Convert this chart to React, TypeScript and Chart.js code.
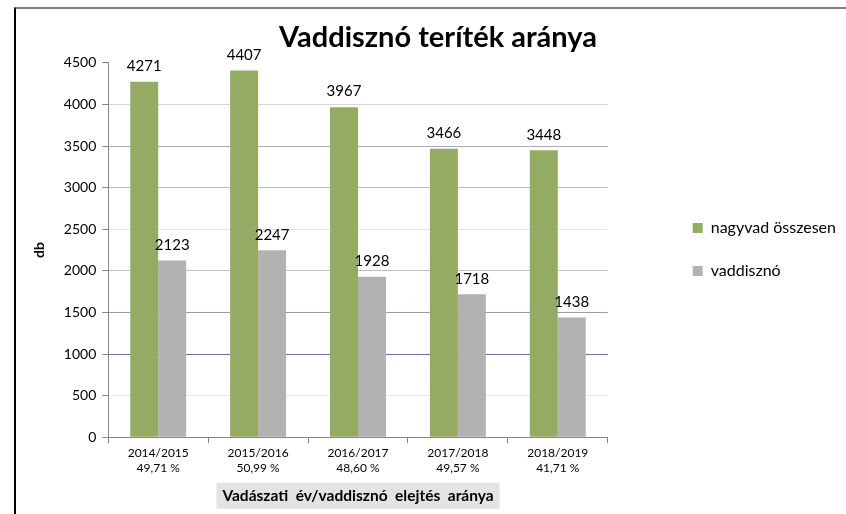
import { useEffect, useRef } from 'react';
import { Chart, registerables } from 'chart.js';

Chart.register(...registerables);

const chartTitle = 'Vaddisznó teríték aránya';
const categories = ['2014/2015', '2015/2016', '2016/2017', '2017/2018', '2018/2019'];
const shareLabels = ['49,71 %', '50,99 %', '48,60 %', '49,57 %', '41,71 %'];
const seriesNames = ['nagyvad összesen', 'vaddisznó'];
const totalGame = [4271, 4407, 3967, 3466, 3448];
const wildBoar = [2123, 2247, 1928, 1718, 1438];
const yMin = 0;
const yMax = 4500;
const yStep = 500;
const yTitle = 'db';
const xTitle = 'Vadászati  év/vaddisznó  elejtés  aránya';

const FONT = 'Lato';
const gridColors: Record<number, string> = {
  4500: 'rgba(0,0,0,0)',
  4000: '#d4d4d4',
  3500: '#a6adc0',
  3000: '#b6bcc9',
  2500: '#e2e2e2',
  2000: '#b9bfcc',
  1500: '#969db4',
  1000: '#6a6fa0',
  500: '#e6e6e6',
  0: '#868686',
};

const LEGEND_DX = 58;
const LEGEND_DY = -11;
const TITLE_DX = 36;

const nudge = {
  id: 'nudge',
  afterLayout(chart: any) {
    const lg = chart.legend;
    if (lg) {
      lg.left += LEGEND_DX;
      lg.right += LEGEND_DX;
      lg.top += LEGEND_DY;
      lg.bottom += LEGEND_DY;
    }
    const tb = chart.titleBlock;
    if (tb) {
      tb.left += TITLE_DX;
      tb.right += TITLE_DX;
    }
  },
};

const xTitleBg = {
  id: 'xTitleBg',
  beforeDraw(chart: any) {
    const sc = chart.scales.x;
    const t = sc.options.title;
    const ctx = chart.ctx;
    ctx.save();
    ctx.font = `bold ${t.font.size}px ${FONT}`;
    const w = ctx.measureText(t.text).width;
    const lh = t.font.size * 1.2;
    const cy = sc.bottom - t.padding.bottom - lh / 2;
    const cx = (sc.left + sc.right) / 2;
    ctx.fillStyle = '#e3e3e3';
    ctx.fillRect(cx - w / 2 - 6, cy - 13, w + 12, 26);
    ctx.restore();
  },
};

const valueLabels = {
  id: 'valueLabels',
  afterDatasetsDraw(chart: any) {
    const ctx = chart.ctx;
    ctx.save();
    ctx.font = `15px ${FONT}`;
    ctx.fillStyle = '#000';
    ctx.textAlign = 'center';
    ctx.textBaseline = 'bottom';
    chart.data.datasets.forEach((ds: any, i: number) => {
      const meta = chart.getDatasetMeta(i);
      meta.data.forEach((bar: any, j: number) => {
        ctx.fillText(String(ds.data[j]), bar.x, bar.y - 8);
      });
    });
    ctx.restore();
  },
};

export default function App() {
  const ref = useRef<HTMLCanvasElement>(null);
  useEffect(() => {
    if (!ref.current) return;
    const chart = new Chart(ref.current, {
      type: 'bar',
      data: {
        labels: categories.map((c, i) => [c, shareLabels[i]]),
        datasets: [
          {
            label: seriesNames[0],
            data: totalGame,
            backgroundColor: '#95ab63',
            categoryPercentage: 0.56,
            barPercentage: 1.0,
          },
          {
            label: seriesNames[1],
            data: wildBoar,
            backgroundColor: '#b2b2b2',
            categoryPercentage: 0.56,
            barPercentage: 1.0,
          },
        ],
      },
      options: {
        responsive: false,
        animation: false,
        layout: { padding: { left: 0, right: 58, top: 0, bottom: 2 } },
        plugins: {
          title: {
            display: true,
            text: chartTitle,
            color: '#000',
            font: { family: FONT, size: 29, weight: 'bold' },
            padding: { top: 11, bottom: 8 },
          },
          legend: {
            position: 'right',
            labels: {
              boxWidth: 10,
              boxHeight: 10,
              color: '#000',
              font: { family: FONT, size: 16 },
              padding: 27,
            },
          },
          tooltip: { enabled: false },
        },
        scales: {
          x: {
            offset: true,
            grid: {
              display: true,
              offset: true,
              drawOnChartArea: false,
              drawTicks: true,
              tickLength: 6,
              color: '#868686',
            },
            border: { color: '#868686' },
            ticks: {
              color: '#000',
              font: { family: FONT, size: 12, lineHeight: 1.3 },
              padding: 2,
              maxRotation: 0,
              autoSkip: false,
            },
            title: {
              display: true,
              text: xTitle,
              color: '#000',
              font: { family: FONT, size: 15.5, weight: 'bold' },
              padding: { top: 8, bottom: 7 },
            },
          },
          y: {
            min: yMin,
            max: yMax,
            ticks: {
              stepSize: yStep,
              color: '#000',
              font: { family: FONT, size: 14 },
              padding: 6,
              callback: (v: any) => String(v),
            },
            grid: {
              color: (c: any) => gridColors[c.tick?.value] ?? '#d9d9d9',
              tickColor: '#868686',
              tickLength: 6,
            },
            border: { color: '#868686' },
            title: {
              display: true,
              text: yTitle,
              color: '#000',
              font: { family: FONT, size: 14, weight: 'bold' },
              padding: { top: 15, bottom: 10 },
            },
          },
        },
      },
      plugins: [nudge, xTitleBg, valueLabels],
    });
    return () => chart.destroy();
  }, []);

  return (
    <div
      style={{
        position: 'absolute',
        left: 14,
        top: 7,
        width: 832,
        height: 507,
        boxSizing: 'border-box',
        borderTop: '2px solid #808080',
        borderLeft: '2px solid #000',
        background: '#fff',
      }}
    >
      <canvas ref={ref} width={830} height={505} style={{ display: 'block' }} />
    </div>
  );
}
